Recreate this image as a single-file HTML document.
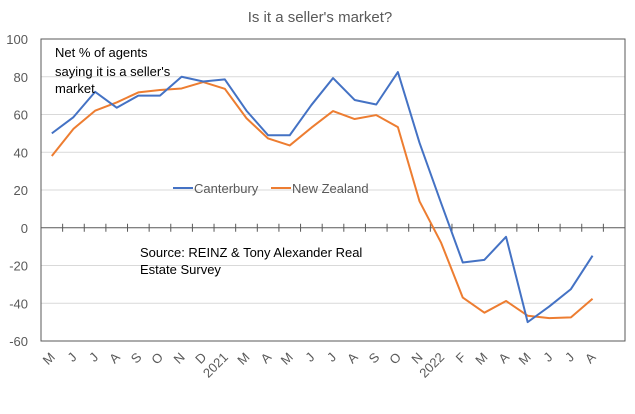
<!DOCTYPE html>
<html><head><meta charset="utf-8"><style>
body{margin:0;background:#fff;}
svg{display:block;font-family:"Liberation Sans",Arial,sans-serif;}
</style></head><body>
<svg id="chart" width="635" height="414">
<text x="320" y="22" text-anchor="middle" font-size="15" fill="#595959">Is it a seller's market?</text>
<g id="grid"></g><g id="axes"></g><g id="series"></g>
<text font-size="13" fill="#000"><tspan x="55" y="57">Net % of agents</tspan><tspan x="55" y="76">saying it is a seller's</tspan><tspan x="55" y="93">market</tspan></text>
<text font-size="13" fill="#000"><tspan x="140" y="257">Source: REINZ &amp; Tony Alexander Real</tspan><tspan x="140" y="274">Estate Survey</tspan></text>
<g>
<line x1="173" y1="188" x2="193" y2="188" stroke="#4472C4" stroke-width="2"/>
<text x="194" y="193" font-size="13" fill="#595959">Canterbury</text>
<line x1="271" y1="188" x2="291" y2="188" stroke="#ED7D31" stroke-width="2"/>
<text x="292" y="193" font-size="13" fill="#595959">New Zealand</text>
</g>
</svg>
<script>
const categories=["M","J","J","A","S","O","N","D","2021","M","A","M","J","J","A","S","O","N","2022","F","M","A","M","J","J","A"];
const canterbury=[50,58.6,72,63.6,70,70,80,77.5,78.6,62,49,49,65,79.3,67.7,65.3,82.5,45,13,-18.4,-17,-4.8,-50,-41.7,-32.5,-14.8];
const newZealand=[38,52.4,62,66.4,71.7,73,73.8,77.2,73.6,58,47.3,43.6,53,61.8,57.6,59.7,53.3,14,-8,-37,-45,-38.8,-46.6,-47.9,-47.5,-37.6];
const yTicks=[100,80,60,40,20,0,-20,-40,-60];
const NS="http://www.w3.org/2000/svg";
const L=41,R=625,T=39,B=341,slots=27;
const sx=i=>L+(R-L)/slots*(i+0.5);
const sy=v=>T+(100-v)/160*(B-T);
function mk(tag,attrs,parent){const e=document.createElementNS(NS,tag);for(const k in attrs)e.setAttribute(k,attrs[k]);parent.appendChild(e);return e;}
const grid=document.getElementById('grid'),axes=document.getElementById('axes'),ser=document.getElementById('series');
yTicks.forEach(v=>{
 if(v!==0&&v!==100&&v!==-60){const g=mk('line',{x1:L,x2:R,y1:sy(v),y2:sy(v),stroke:'#d9d9d9','stroke-width':1},grid);
 
 }
 const t=mk('text',{x:28,y:sy(v)+5,'text-anchor':'end','font-size':13,fill:'#595959'},axes);
 t.textContent=v;
 
 
});
const fr=mk('rect',{x:L,y:T,width:R-L,height:B-T,fill:'none',stroke:'#595959','stroke-width':1},axes);


const z=mk('line',{x1:L,x2:R,y1:sy(0),y2:sy(0),stroke:'#595959','stroke-width':1},axes);


const step=(R-L)/slots;
for(let i=1;i<slots;i++){const tk=mk('line',{x1:L+i*step,x2:L+i*step,y1:sy(0)-4,y2:sy(0)+4,stroke:'#595959'},axes);
 
 }
categories.forEach((c,i)=>{const x=sx(i)+4,y=358;
 const t=mk('text',{x:x,y:y,'text-anchor':'end','font-size':13,fill:'#595959',transform:`rotate(-45 ${x} ${y})`},axes);
 t.textContent=c;
 
 });
[[newZealand,'#ED7D31','new-zealand-line'],[canterbury,'#4472C4','canterbury-line']].forEach(([d,col,n])=>{
 const p=mk('polyline',{points:d.map((v,i)=>sx(i)+','+sy(v)).join(' '),fill:'none',stroke:col,'stroke-width':2,'stroke-linejoin':'round'},ser);
 
 
});
</script>
</body></html>
